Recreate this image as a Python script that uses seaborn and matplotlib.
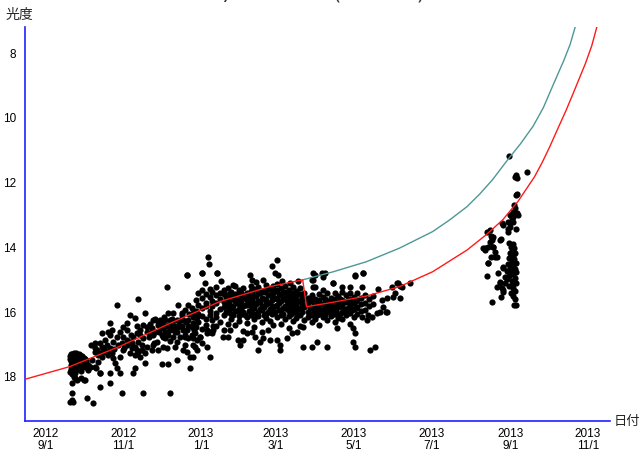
import matplotlib
matplotlib.use("Agg")
import matplotlib.pyplot as plt
import numpy as np
import pandas as pd
import seaborn as sns

# ---------------- data ----------------
BASE_DATE = "2012-09-01"   # observation days are counted from this date

# scattered observations: day offset from BASE_DATE, magnitude
early_day = [19, 20, 21, 22, 23, 24, 25, 26, 27, 28, 29, 30, 31, 32,
             19, 20, 22, 23, 24, 26, 27, 29, 30, 32,
             20, 21, 23, 25, 26, 28, 29, 31, 33,
             20, 22, 24, 25, 27, 28,
             19, 21, 23,
             22, 23, 24.5, 21, 28, 30, 20.6, 19.3, 21.9, 20.5, 32.3, 37.6,
             33.7, 35, 40, 43, 50.7, 42.8, 50.7, 31]
early_mag = [17.35, 17.30, 17.28, 17.27, 17.30, 17.27, 17.32, 17.29, 17.33, 17.38, 17.35, 17.42, 17.45, 17.48,
             17.45, 17.50, 17.42, 17.48, 17.40, 17.47, 17.52, 17.50, 17.58, 17.55,
             17.62, 17.58, 17.63, 17.58, 17.65, 17.60, 17.67, 17.70, 17.62,
             17.75, 17.72, 17.78, 17.70, 17.76, 17.80,
             17.85, 17.90, 17.88,
             17.99, 18.04, 18.09, 18.20, 18.04, 18.09, 18.48, 18.76, 18.78, 18.70, 18.66, 18.81,
             17.78, 17.68, 17.73, 17.89, 17.89, 18.30, 18.20, 18.09]

autumn_day = [41.5, 44.1, 41.5, 40.2, 44.1, 48, 50.7, 46.7, 52, 53.3, 54.6, 55.9, 58.5, 70.3, 69,
              58.5, 61.1, 63.7, 66.4, 70.3, 72.9, 71.6, 74.2, 78.1, 79.4, 76.8, 79.4, 74.2, 71.6,
              76.8, 78.1, 70.3, 66.4, 63.7, 58.5, 55.9, 53.3, 50.7, 49.4, 52, 50.7, 44.1, 46.7,
              55.9, 72.9, 38.9, 42.8, 45.4, 48, 49.4, 42.8, 38.9, 36.3, 35, 38.9, 42.8,
              66.4, 67.7, 70.3, 72.9, 75.5, 75.5, 69, 61.1, 59.8, 76.8, 78.1,
              36, 39, 46, 50, 54, 57, 60, 62, 64, 68, 72, 74, 80, 82, 84, 86, 88, 92,
              64, 61, 67, 81, 85]
autumn_mag = [17.53, 17.39, 17.32, 17.17, 17.06, 17.01, 17.11, 17.22, 17.27, 17.42, 17.58, 17.73, 17.89, 17.73, 17.89,
              17.37, 17.17, 17.01, 16.91, 17.06, 16.91, 17.17, 17.37, 17.27, 17.06, 16.81, 16.60, 16.55, 16.44,
              16.39, 16.03, 16.19, 16.08, 16.34, 16.60, 16.75, 16.91, 16.70, 16.60, 16.55, 16.34, 16.65, 16.86,
              15.78, 15.60, 16.96, 16.96, 17.11, 17.22, 17.32, 17.27, 17.22, 17.47, 17.68, 17.68, 17.89,
              17.27, 17.11, 17.32, 17.22, 17.01, 17.17, 16.75, 16.75, 18.50, 18.50, 17.58,
              17.00, 17.10, 17.15, 17.20, 17.15, 17.00, 16.95, 17.10, 16.85, 16.95, 16.65, 16.70, 16.45, 16.35, 16.50, 16.60, 16.40, 16.30,
              16.55, 16.45, 16.70, 16.75, 16.95]

winter_day = [83.4, 84.7, 87.3, 84.7, 83.4, 88.6, 92.5, 93.8, 96.5, 97.8, 95.1, 99.1, 101.7, 103, 100.4,
              103, 96.5, 100.4, 104.3, 95.1, 112.2, 114.8, 116.1, 108.2, 106.9, 109.5, 112.2, 114.8, 116.1,
              108.2, 110.9, 113.5, 101.7, 103, 91.2, 96.5, 97.8, 113.5, 129.2, 95.1, 92.5, 89.9, 84.7,
              110.9, 122.6, 134.4,
              91.2, 93.8, 97.8, 99.1, 95.1, 91.2, 105.6, 106.9, 109.5, 105.6, 112.2, 116.1, 118.7, 117.4,
              121.3, 122.6, 118.7, 126.6, 126.6, 130.5, 131.8,
              88, 90, 93, 97, 99, 103, 107, 110, 113, 116, 104, 101, 94, 111, 115,
              86, 89, 92, 98, 102, 105, 108, 112, 117, 119]
winter_mag = [16.60, 16.70, 16.91, 17.01, 17.17, 17.17, 17.06, 16.81, 16.70, 16.55, 16.44, 16.34, 16.44, 16.60, 16.75,
              16.91, 16.03, 16.03, 15.78, 15.21, 15.78, 15.88, 16.03, 16.24, 16.44, 16.70, 16.81, 16.70, 17.01,
              17.17, 17.22, 17.37, 17.06, 17.47, 17.61, 17.61, 18.50, 17.71, 17.37, 17.11, 16.50, 16.24, 16.24,
              14.85, 14.80, 14.80,
              16.34, 16.24, 16.24, 16.50, 16.60, 16.70, 16.24, 16.03, 15.93, 16.75, 16.44, 16.34, 16.14, 16.65,
              16.75, 16.96, 17.17, 16.55, 17.06, 16.65, 16.44,
              16.30, 16.45, 16.15, 16.40, 16.20, 16.25, 16.10, 16.30, 16.05, 16.15, 16.45, 16.55, 16.60, 16.55, 16.45,
              16.20, 16.62, 16.78, 16.88, 16.62, 16.38, 16.55, 16.25, 16.55, 16.85]

# dense main swarm (Dec 2012 - May 2013): one column of magnitudes per day offset
swarm_day = [118, 120, 123, 126, 129, 131, 134, 137, 140, 143, 146, 149, 152, 155, 158, 161, 164,
             167, 170, 173, 176, 179, 182, 185, 188, 191, 194, 197, 200, 203,
             206, 209, 212, 215, 218, 221, 224, 227, 230, 233, 236, 239, 242, 245, 248, 251, 254, 257]
swarm_mag = [
    [15.62, 15.95, 16.18, 16.45],
    [15.40, 15.78, 16.05, 16.30],
    [15.30, 15.55, 15.88, 16.12, 16.52],
    [15.45, 15.70, 15.82, 16.20, 16.38],
    [15.28, 15.52, 15.95, 16.08, 16.62],
    [15.36, 15.65, 15.80, 16.25],
    [15.22, 15.48, 15.72, 16.02, 16.15, 16.44],
    [15.40, 15.58, 15.90, 16.30],
    [15.30, 15.45, 15.68, 15.85, 16.10, 16.55],
    [15.25, 15.60, 15.78, 15.98, 16.35],
    [15.38, 15.52, 15.88, 16.05, 16.20],
    [15.20, 15.45, 15.66, 15.96, 16.40],
    [15.32, 15.55, 15.74, 15.90, 16.12, 16.28],
    [15.26, 15.48, 15.82, 16.00, 16.58],
    [15.40, 15.62, 15.78, 16.15, 16.32],
    [15.18, 15.35, 15.58, 15.92, 16.08],
    [15.28, 15.50, 15.70, 15.86, 16.22, 16.45],
    [15.22, 15.42, 15.65, 15.98, 16.12],
    [15.35, 15.55, 15.80, 15.94, 16.30, 16.62],
    [15.16, 15.30, 15.62, 15.75, 16.05, 16.18],
    [15.28, 15.46, 15.70, 15.90, 16.26],
    [15.20, 15.40, 15.56, 15.84, 16.00, 16.40],
    [15.12, 15.32, 15.60, 15.78, 16.14],
    [15.25, 15.48, 15.66, 15.92, 16.08, 16.35],
    [15.18, 15.38, 15.55, 15.82, 16.20],
    [15.30, 15.52, 15.74, 15.96, 16.12, 16.50],
    [15.22, 15.42, 15.68, 15.88, 16.28],
    [15.35, 15.58, 15.76, 16.02, 16.18],
    [15.26, 15.45, 15.64, 15.90, 16.10, 16.42],
    [15.40, 15.60, 15.84, 16.25],
    [15.55, 15.72, 15.98, 16.15],
    [15.48, 15.66, 15.86, 16.08, 16.30],
    [15.58, 15.80, 15.95, 16.20],
    [15.45, 15.62, 15.90, 16.05, 16.38],
    [15.52, 15.76, 15.92, 16.15],
    [15.42, 15.65, 15.82, 16.00, 16.25],
    [15.56, 15.74, 15.96, 16.12],
    [15.40, 15.60, 15.88, 16.05, 16.30],
    [15.50, 15.70, 15.85, 16.18],
    [15.38, 15.62, 15.80, 15.98, 16.22],
    [15.48, 15.68, 15.92, 16.10],
    [15.42, 15.58, 15.78, 16.02, 16.35],
    [15.52, 15.72, 15.90, 16.15],
    [15.40, 15.62, 15.85, 16.05],
    [15.55, 15.75, 15.96],
    [15.48, 15.70, 15.92],
    [15.58, 15.82],
    [15.50, 15.74],
]

# densest core of the swarm, between the columns above
core_day = [141.5, 144.5, 147.5, 150.5, 153.5, 156.5, 159.5, 162.5, 165.5, 168.5, 171.5,
            174.5, 177.5, 180.5, 183.5, 186.5, 189.5, 192.5, 195.5, 198.5, 201.5,
            207.5, 210.5, 213.5, 216.5, 219.5, 222.5, 225.5, 228.5, 231.5, 234.5, 237.5, 240.5, 243.5]
core_mag = [
    [15.52, 15.78, 16.00],
    [15.44, 15.70, 15.92],
    [15.58, 15.82, 16.10],
    [15.48, 15.72, 15.95],
    [15.40, 15.64, 15.86, 16.05],
    [15.55, 15.78, 16.08],
    [15.46, 15.70, 15.96],
    [15.38, 15.62, 15.84, 16.02],
    [15.50, 15.76, 16.06],
    [15.42, 15.68, 15.90],
    [15.36, 15.58, 15.84, 16.10],
    [15.48, 15.72, 15.98],
    [15.40, 15.62, 15.88, 16.06],
    [15.35, 15.55, 15.80, 15.98],
    [15.44, 15.70, 15.94],
    [15.38, 15.60, 15.86, 16.04],
    [15.46, 15.66, 15.90],
    [15.40, 15.62, 15.82, 16.04],
    [15.50, 15.70, 15.95],
    [15.44, 15.66, 15.88],
    [15.52, 15.74, 15.98],
    [15.62, 15.88, 16.05],
    [15.70, 15.94],
    [15.66, 15.86, 16.10],
    [15.74, 15.98],
    [15.60, 15.86, 16.08],
    [15.70, 15.90],
    [15.64, 15.84, 16.04],
    [15.72, 15.96],
    [15.58, 15.82, 16.06],
    [15.68, 15.90],
    [15.62, 15.86, 16.02],
    [15.70, 15.94],
    [15.66, 15.88],
]

spring_day = [109.5, 109.5, 116.1, 117.4, 116.1, 121.3, 126.5, 131.8, 139.6, 143.5, 144.9, 151.4, 152.7,
              155.3, 157.9, 161.9, 164.5, 167.1, 168.4, 171, 175, 176.3, 181.5, 184.1, 184.1, 189.3,
              193.3, 197.2, 202.4, 202.4, 209, 212.9, 220.7, 228.6, 241.7, 243, 241.7, 243, 254.8,
              258.7, 248.2, 252.2, 256.1, 262.6, 267.9, 263.9, 268.4,
              127.8, 128.6, 110.8, 122.6, 134.4, 160.6, 161.9, 177.6, 181.5, 180.2, 182.8, 210.3,
              219.4, 243, 249, 210.3, 226, 211.6, 275.7, 278.3, 286.2, 271.8,
              243, 249.5, 226, 232.5, 239, 248.2, 261.3, 277, 279.6, 274.4, 273, 278.3, 265.2,
              267.8, 253.4, 260, 218.1, 210.3, 218.1, 211.6, 216.8, 209,
              125, 138, 147, 165, 171, 186, 192, 198]
spring_mag = [16.75, 17.01, 16.81, 17.06, 17.37, 16.75, 16.65, 16.55, 16.75, 16.75, 16.55, 16.86, 17.01,
              16.86, 16.65, 16.60, 16.75, 17.17, 16.91, 16.81, 16.55, 16.86, 16.86, 17.01, 17.17, 16.81,
              16.65, 16.60, 16.45, 17.06, 17.06, 16.91, 17.06, 16.50, 16.50, 16.65, 16.91, 17.06, 17.17,
              17.06, 16.14, 16.24, 16.14, 15.98, 15.98, 15.62, 15.57,
              14.30, 14.51, 14.85, 14.80, 14.80, 14.85, 15.00, 14.57, 14.39, 14.80, 14.85, 14.80,
              14.80, 14.85, 14.80, 15.00, 15.11, 15.21, 15.11, 15.19, 15.11, 15.21,
              14.88, 14.80, 15.09, 15.21, 15.21, 15.21, 15.29, 15.11, 15.23, 15.42, 15.52, 15.57, 15.83,
              15.98, 16.09, 16.03, 15.31, 15.21, 14.90, 14.85, 14.78, 15.00,
              15.10, 15.05, 15.15, 15.08, 15.00, 15.05, 15.10, 15.02]

late_day = [364.2, 369.4, 370.0, 378.3, 370.5, 367.8, 368.6, 366.8, 364.7, 366.0, 363.4, 371.2, 370.0,
            367.3, 364.7, 359.5, 358.2, 362.9, 369.4, 349.0, 349.5, 351.6, 350.3, 357.4, 343.8, 347.7,
            351.6, 345.1, 349.5, 352.9, 347.7, 346.4, 350.3,
            364.2, 366.8, 365.2, 367.8, 366.0, 364.7, 368.6, 366.8, 364.2, 367.8, 366.0, 369.4, 363.4,
            366.8, 364.7, 368.6, 362.1, 366.0, 359.5, 367.3, 364.2, 368.6, 362.6, 366.0, 360.8, 367.3,
            364.2, 358.2, 366.8, 368.6, 359.5, 365.2, 367.3, 368.6, 368.1, 360.8, 356.9, 369.9, 369.9,
            350.3, 349.0, 351.6, 352.9, 354.2, 345.0, 347.7, 355.5, 356.8, 359.4, 358.1, 354.2, 362.1,
            359.4, 356.8, 363.4, 364.7, 367.3, 369.9, 368.6, 346.4, 369.2]
late_mag = [11.17, 11.76, 11.86, 11.68, 12.36, 12.69, 12.79, 12.89, 12.99, 13.10, 13.20, 12.99, 12.94,
            13.05, 13.25, 13.30, 13.25, 13.44, 13.44, 13.46, 13.66, 13.69, 13.77, 13.75, 14.03, 13.99,
            13.99, 14.08, 14.28, 14.28, 14.49, 14.88, 15.69,
            13.87, 13.89, 13.97, 14.03, 14.10, 14.18, 14.18, 14.26, 14.33, 14.37, 14.44, 14.49, 14.51,
            14.57, 14.64, 14.67, 14.72, 14.75, 14.64, 14.82, 14.88, 14.95, 14.98, 15.02, 15.09, 15.13,
            15.19, 15.26, 15.26, 15.33, 15.36, 15.42, 15.50, 15.60, 15.78, 14.90, 15.11, 14.75, 15.11,
            13.72, 13.82, 13.97, 14.13, 14.28, 14.03, 14.49, 14.80, 15.06, 15.31, 15.52, 15.21, 14.90,
            14.59, 13.77, 13.51, 13.36, 13.20, 12.38, 11.81, 13.51, 15.78]

# fitted light curves (red: current, teal: earlier formula)
red_dates = ["2012-08-15", "2012-09-20", "2012-10-29", "2012-12-08", "2013-01-16", "2013-02-24",
             "2013-03-22", "2013-03-25", "2013-04-15", "2013-05-11", "2013-06-06", "2013-07-02",
             "2013-07-29", "2013-08-13", "2013-08-26", "2013-09-07", "2013-09-13", "2013-09-20",
             "2013-09-26", "2013-10-02", "2013-10-08", "2013-10-15", "2013-10-20", "2013-10-25",
             "2013-10-30", "2013-11-04", "2013-11-08"]
red_mag = [18.08, 17.68, 17.06, 16.34, 15.67, 15.21, 15.00, 15.83, 15.69, 15.50, 15.21, 14.75,
           14.08, 13.61, 13.15, 12.58, 12.23, 11.82, 11.38, 10.89, 10.36, 9.75, 9.28, 8.80,
           8.32, 7.77, 7.19]
teal_dates = ["2013-03-22", "2013-04-15", "2013-05-11", "2013-06-06", "2013-07-02", "2013-07-15",
              "2013-07-29", "2013-08-08", "2013-08-18", "2013-08-30", "2013-09-09", "2013-09-19",
              "2013-09-27", "2013-10-04", "2013-10-13", "2013-10-18", "2013-10-22"]
teal_mag = [15.00, 14.75, 14.44, 14.02, 13.51, 13.16, 12.74, 12.35, 11.91, 11.29, 10.80, 10.25,
            9.68, 9.04, 8.23, 7.73, 7.19]

tick_dates = ["2012-09-01", "2012-11-01", "2013-01-01", "2013-03-01",
              "2013-05-01", "2013-07-01", "2013-09-01", "2013-11-01"]
tick_labels = ["2012\n9/1", "2012\n11/1", "2013\n1/1", "2013\n3/1",
               "2013\n5/1", "2013\n7/1", "2013\n9/1", "2013\n11/1"]
ytick_values = [8, 10, 12, 14, 16, 18]

# ---------------- build table ----------------
days = list(early_day) + list(autumn_day) + list(winter_day) + list(spring_day) + list(late_day)
mags = list(early_mag) + list(autumn_mag) + list(winter_mag) + list(spring_mag) + list(late_mag)
for d, col in list(zip(swarm_day, swarm_mag)) + list(zip(core_day, core_mag)):
    days += [d] * len(col)
    mags += col
base = pd.Timestamp(BASE_DATE)
obs = pd.DataFrame({"date": base + pd.to_timedelta(np.array(days, dtype=float), unit="D"),
                    "mag": mags})
red = pd.DataFrame({"date": pd.to_datetime(red_dates), "mag": red_mag})
teal = pd.DataFrame({"date": pd.to_datetime(teal_dates), "mag": teal_mag})

# ---------------- plot ----------------
sns.set_style("white")
plt.rcParams["font.family"] = ["Liberation Sans", "Noto Sans CJK JP", "DejaVu Sans"]

fig = plt.figure(figsize=(6.41, 4.51), dpi=100)
ax = fig.add_axes([24.6 / 641, 1 - 420.7 / 451, (610 - 24.6) / 641, (420.7 - 27) / 451])

sns.scatterplot(data=obs, x="date", y="mag", ax=ax, color="black", s=20,
                linewidth=0, marker="o", zorder=2, legend=False)
sns.lineplot(data=teal, x="date", y="mag", ax=ax, color="#4f9797", lw=1.0,
             sort=False, estimator=None, zorder=3)
sns.lineplot(data=red, x="date", y="mag", ax=ax, color="#ff1a1a", lw=1.0,
             sort=False, estimator=None, zorder=4)

ax.set_xlim(pd.Timestamp("2012-08-15 14:00"), pd.Timestamp("2013-11-18 08:00"))
ax.set_ylim(19.35, 7.19)
ax.set_xticks(pd.to_datetime(tick_dates))
ax.set_xticklabels(tick_labels, linespacing=1.05)
ax.set_yticks(ytick_values)
ax.set_yticklabels([str(v) for v in ytick_values])
ax.set_xlabel("")
ax.set_ylabel("")

for side in ["top", "right"]:
    ax.spines[side].set_visible(False)
for side in ["left", "bottom"]:
    ax.spines[side].set_color("#2020ff")
    ax.spines[side].set_linewidth(1.2)
ax.tick_params(axis="both", direction="in", length=7, width=1.5, color="#3030ff",
               labelsize=8.5, labelcolor="black")
ax.tick_params(axis="y", pad=6)
ax.tick_params(axis="x", pad=5)
ax.grid(False)

fig.text(19 / 641, 1 - 15 / 451, "光度", ha="center", va="center", fontsize=10,
         family=["Noto Sans CJK JP"])
fig.text(627 / 641, 1 - 421 / 451, "日付", ha="center", va="center", fontsize=9.5,
         family=["Noto Sans CJK JP"])
fig.text(319 / 641, 1.0, "C/2012 S1 ( ISON )", ha="center", va="baseline",
         fontsize=14.4, family=["DejaVu Sans Mono"], color="#333333")

fig.savefig("out.png", dpi=100, facecolor="white")
